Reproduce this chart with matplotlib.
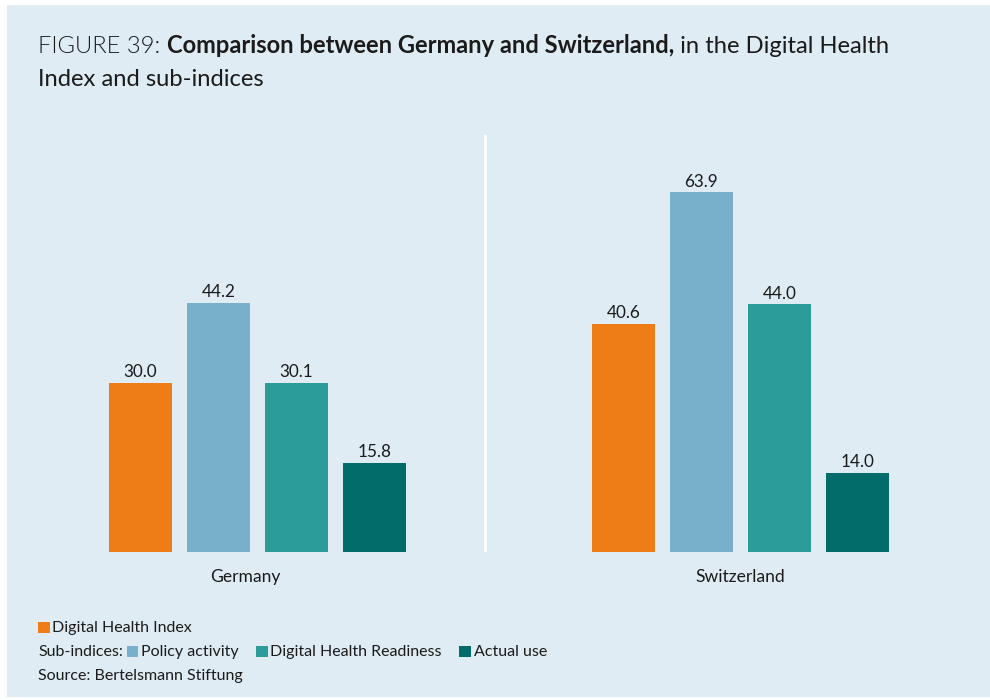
import matplotlib
matplotlib.use("Agg")
import matplotlib.pyplot as plt
import matplotlib.transforms as mtransforms
from matplotlib.patches import Rectangle
from matplotlib import font_manager as fm

# ---- data ----
countries = ["Germany", "Switzerland"]
series = ["Digital Health Index", "Policy activity", "Digital Health Readiness", "Actual use"]
germany = [30.0, 44.2, 30.1, 15.8]
switzerland = [40.6, 63.9, 44.0, 14.0]
colors = ["#EF7D17", "#78AFCB", "#2C9C9A", "#016C69"]

BG = "#DFECF4"
TXT = "#1b1b1b"
FONT = "Lato"

# locate the Lato Light face explicitly (avoid the hairline weight)
light_file = None
for f in fm.findSystemFonts():
    name = f.split("/")[-1].lower()
    if name in ("lato-light.ttf", "lato-light.otf"):
        light_file = f
        break

W, H = 990, 700
fig = plt.figure(figsize=(W / 100, H / 100), dpi=100, facecolor="white")
px = mtransforms.IdentityTransform()

# light panel behind everything
fig.add_artist(Rectangle((7, 3), 983, 692, transform=px, facecolor=BG,
                         edgecolor="none", zorder=0))

# ---- bars ----
ax = fig.add_axes([7 / W, (H - 552) / H, 983 / W, 417 / H])
ax.set_facecolor("none")
group_step = 6.19
bar_w = 0.808
ax.set_xlim(-1.712, 10.891)
ax.set_ylim(0, 74.1)

for g, vals in enumerate([germany, switzerland]):
    for i, v in enumerate(vals):
        x = g * group_step + i
        ax.bar(x, v, width=bar_w, color=colors[i], zorder=2)
        ax.annotate(f"{v:.1f}", xy=(x, v), xytext=(0, 4.2), textcoords="offset points",
                    ha="center", va="baseline", fontsize=12.3, family=FONT, color=TXT)
    center = g * group_step + 1.5
    ax.annotate(countries[g], xy=(center - (0.16 if g == 0 else 0), 0), xytext=(0, -21.5),
                textcoords="offset points", ha="center", va="baseline",
                fontsize=12.6, family=FONT, color=TXT)

# divider between the two countries
ax.axvline(4.417, color="white", lw=2.2, alpha=0.9, zorder=1)

for s in ax.spines.values():
    s.set_visible(False)
ax.set_xticks([])
ax.set_yticks([])

# ---- helpers for run-on text ----
fig.canvas.draw()
renderer = fig.canvas.get_renderer()


def runs(parts, x, y, size):
    for txt, weight in parts:
        if weight == "light" and light_file:
            fp = fm.FontProperties(fname=light_file, size=size)
        else:
            fp = fm.FontProperties(family=FONT, size=size,
                                   weight=("normal" if weight == "light" else weight))
        t = fig.text(x, y, txt, transform=px, fontproperties=fp,
                     color=TXT, va="baseline", ha="left")
        x = t.get_window_extent(renderer).x1
    return x


# ---- title ----
TS = 17.1
runs([("FIGURE 39: ", "light"),
      ("Comparison between Germany and Switzerland,", "bold"),
      (" in the Digital Health", "normal")], 38, H - 53, TS)
runs([("Index and sub-indices", "normal")], 38, H - 86, TS)

# ---- legend & source ----
LS = 11.5
sq = 11.5


def swatch(x, y, c):
    fig.add_artist(Rectangle((x, y - 1), sq, sq, transform=px, facecolor=c,
                             edgecolor="none"))
    return x + sq + 3


y1 = H - 632
x = swatch(38, y1, colors[0])
runs([(series[0], "normal")], x, y1, LS)

y2 = H - 656
x = runs([("Sub-indices:", "normal")], 38, y2, LS)
x += 4
for i in range(1, 4):
    x = swatch(x, y2, colors[i])
    x = runs([(series[i], "normal")], x, y2, LS)
    x += 17

y3 = H - 680
runs([("Source: Bertelsmann Stiftung", "normal")], 38, y3, LS)

fig.savefig("out.png", dpi=100, facecolor="white")
